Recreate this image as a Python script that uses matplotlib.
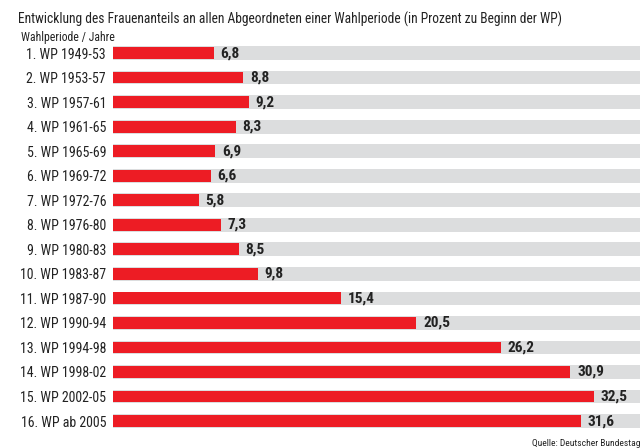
import matplotlib.pyplot as plt

labels = ['1. WP 1949-53', '2. WP 1953-57', '3. WP 1957-61', '4. WP 1961-65',
          '5. WP 1965-69', '6. WP 1969-72', '7. WP 1972-76', '8. WP 1976-80',
          '9. WP 1980-83', '10. WP 1983-87', '11. WP 1987-90', '12. WP 1990-94',
          '13. WP 1994-98', '14. WP 1998-02', '15. WP 2002-05', '16. WP ab 2005']
values = [6.8, 8.8, 9.2, 8.3, 6.9, 6.6, 5.8, 7.3, 8.5, 9.8, 15.4, 20.5,
          26.2, 30.9, 32.5, 31.6]
value_text = [str(v).replace('.', ',') for v in values]

plt.rcParams['font.family'] = ['Roboto Condensed', 'DejaVu Sans']

fig = plt.figure(figsize=(6.4, 4.48), dpi=100)
ax = fig.add_axes([0.1766, 0.0328, 0.8234, 0.8762])

xmax = 35.6
y = range(len(values))
ax.barh(y, [xmax] * len(values), height=0.56, color='#dcddde', left=0)
ax.barh(y, values, height=0.48, color='#ed1c24')
for i, v in enumerate(values):
    ax.text(v + 0.45, i, value_text[i], va='center', ha='left',
            fontsize=11, fontweight='bold', color='#222222')

ax.set_xlim(0, xmax)
ax.set_ylim(len(values) - 0.5, -0.5)
ax.set_yticks(list(y))
ax.set_yticklabels(labels, fontsize=10, color='#222222')
ax.tick_params(axis='y', length=0, pad=5)
ax.set_xticks([])
for s in ax.spines.values():
    s.set_visible(False)

fig.text(18 / 640, 1 - 19 / 448, 'Entwicklung des Frauenanteils an allen Abgeordneten einer Wahlperiode (in Prozent zu Beginn der WP)',
         fontsize=9.75, va='center', ha='left', color='#222222')
fig.text(21 / 640, 1 - 38 / 448, 'Wahlperiode / Jahre', fontsize=8.5,
         va='center', ha='left', color='#222222')
fig.text(532 / 640, 1 - 443 / 448, 'Quelle: Deutscher Bundestag', fontsize=6.8,
         va='center', ha='left', color='#222222')

fig.savefig('out.png', dpi=100)
